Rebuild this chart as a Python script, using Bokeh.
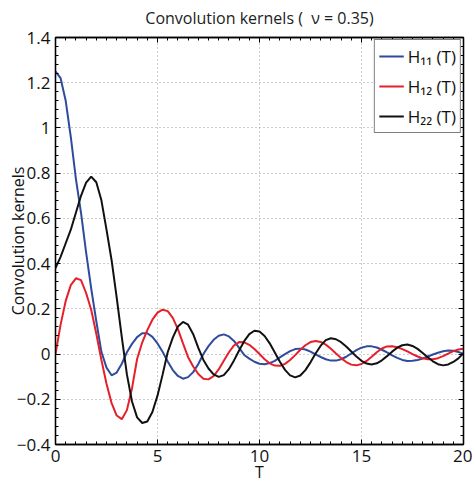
from bokeh.plotting import figure
from bokeh.models import (LinearAxis, FixedTicker, CustomJSTickFormatter, Legend,
                          LegendItem, Range1d)
from bokeh.embed import file_html
from bokeh.resources import INLINE

# ---- data ----
t = [i / 4 for i in range(81)]  # T sample grid, 0 .. 20

h11 = [1.25, 1.22, 1.12, 0.96, 0.775, 0.625, 0.45, 0.29, 0.145, 0.01, -0.06, -0.094,
       -0.082, -0.043, 0.008, 0.045, 0.075, 0.092, 0.092, 0.076, 0.047, 0.01, -0.033,
       -0.071, -0.097, -0.109, -0.102, -0.08, -0.044, 0.0, 0.035, 0.063, 0.081, 0.087,
       0.078, 0.058, 0.027, -0.004, -0.02, -0.034, -0.043, -0.045, -0.040, -0.030,
       -0.015, 0.000, 0.013, 0.022, 0.024, 0.020, 0.011, -0.001, -0.013, -0.023,
       -0.029, -0.029, -0.023, -0.012, 0.0025, 0.017, 0.028, 0.034, 0.034, 0.029,
       0.019, 0.0075, -0.0055, -0.017, -0.026, -0.031, -0.030, -0.0265, -0.0197,
       -0.011, -0.002, 0.006, 0.0125, 0.016, 0.015, 0.009, 0.001]

h12 = [0.0, 0.13, 0.235, 0.305, 0.335, 0.327, 0.27, 0.196, 0.09, -0.026, -0.131,
       -0.217, -0.272, -0.288, -0.248, -0.152, -0.022, 0.051, 0.106, 0.152, 0.183,
       0.196, 0.19, 0.16, 0.11, 0.047, -0.014, -0.055, -0.088, -0.109, -0.112, -0.098,
       -0.068, -0.030, 0.008, 0.038, 0.053, 0.052, 0.041, 0.022, 0.000, -0.023,
       -0.041, -0.051, -0.052, -0.0435, -0.0266, -0.0046, 0.0188, 0.039, 0.053, 0.058,
       0.0537, 0.0417, 0.0238, 0.0027, -0.018, -0.0354, -0.0467, -0.05, -0.044,
       -0.0303, -0.0115, 0.0081, 0.0244, 0.0337, 0.0345, 0.0302, 0.022, 0.0115, 0.0,
       -0.0107, -0.0189, -0.0234, -0.0234, -0.0182, -0.009, 0.0022, 0.0128, 0.0203,
       0.023]

h22 = [0.38, 0.43, 0.49, 0.55, 0.625, 0.70, 0.758, 0.785, 0.76, 0.68, 0.55, 0.415,
       0.25, 0.075, -0.09, -0.21, -0.28, -0.305, -0.298, -0.256, -0.184, -0.091, 0.008,
       0.073, 0.122, 0.142, 0.13, 0.088, 0.027, -0.026, -0.064, -0.090, -0.101, -0.093,
       -0.067, -0.028, 0.016, 0.057, 0.088, 0.103, 0.0997, 0.080, 0.0473, 0.0072,
       -0.034, -0.070, -0.094, -0.103, -0.095, -0.071, -0.0366, 0.0021, 0.037, 0.0614,
       0.07, 0.0655, 0.0527, 0.0335, 0.011, -0.0112, -0.030, -0.042, -0.046, -0.0408,
       -0.0276, -0.0092, 0.0107, 0.028, 0.039, 0.042, 0.036, 0.023, 0.005, -0.0145,
       -0.032, -0.0448, -0.05, -0.046, -0.035, -0.019, 0.004]

series_labels = ["H\u2081\u2081 (T)", "H\u2081\u2082 (T)", "H\u2082\u2082 (T)"]
series_colors = ["#2f4b9c", "#e5202b", "#111111"]

x_ticks = [0, 5, 10, 15, 20]
x_minor = [i / 2 for i in range(41)]
y_ticks = [-0.4, -0.2, 0, 0.2, 0.4, 0.6, 0.8, 1.0, 1.2, 1.4]
y_minor = [round(-0.4 + 0.04 * i, 2) for i in range(46)]

title_text = "Convolution kernels (\u00a0 \u03bd = 0.35)"
x_label = "T"
y_label = "Convolution kernels"

FONT = "Open Sans"

p = figure(width=472, height=486, output_backend="svg", toolbar_location=None,
           x_range=Range1d(0, 20), y_range=Range1d(-0.4, 1.4),
           min_border_left=55, min_border_right=9, min_border_top=36,
           min_border_bottom=42)
p.background_fill_color = "white"
p.border_fill_color = "white"
p.outline_line_color = "black"
p.outline_line_width = 1.3

p.title.text = title_text
p.title.align = "center"
p.title.vertical_align = "top"
p.title.text_font = FONT
p.title.text_font_size = "16px"
p.title.text_font_style = "normal"
p.title.text_color = "#222222"
p.title.standoff = 13

fmt = CustomJSTickFormatter(code="""
var v = Math.round(tick * 10) / 10;
return (v < 0 ? '\\u2212' : '') + Math.abs(v).toString();
""")
blank = CustomJSTickFormatter(code="return '';")

xt = FixedTicker(ticks=x_ticks, minor_ticks=x_minor)
yt = FixedTicker(ticks=y_ticks, minor_ticks=y_minor)


def style_axis(ax, labels=True):
    ax.axis_line_color = "black"
    ax.axis_line_width = 1.3
    ax.major_tick_in = 5
    ax.major_tick_out = 0
    ax.minor_tick_in = 3
    ax.minor_tick_out = 0
    ax.major_tick_line_color = "black"
    ax.minor_tick_line_color = "black"
    ax.major_label_text_font = FONT
    ax.major_label_text_color = "#111111"
    if labels:
        ax.major_label_text_font_size = "17px"
        ax.major_label_standoff = 5
        ax.formatter = fmt
    else:
        ax.major_label_text_font_size = "1px"
        ax.major_label_standoff = 0
        ax.formatter = blank


p.xaxis.ticker = xt
p.yaxis.ticker = yt
style_axis(p.xaxis[0])
style_axis(p.yaxis[0])
p.xaxis.axis_label = x_label
p.yaxis.axis_label = y_label
for ax in (p.xaxis[0], p.yaxis[0]):
    ax.axis_label_text_font = FONT
    ax.axis_label_text_font_size = "16px"
    ax.axis_label_text_font_style = "normal"
    ax.axis_label_text_color = "#111111"
p.xaxis[0].axis_label_standoff = -4
p.yaxis[0].axis_label_standoff = -15

top = LinearAxis(ticker=xt)
style_axis(top, labels=False)
p.add_layout(top, "above")
right = LinearAxis(ticker=yt)
style_axis(right, labels=False)
p.add_layout(right, "right")

p.xgrid.ticker = xt
p.ygrid.ticker = yt
for g in (p.xgrid[0], p.ygrid[0]):
    g.grid_line_color = "#9a9a9a"
    g.grid_line_dash = "1 3"
    g.grid_line_width = 1

renderers = []
for ys, c in zip([h11, h12, h22], series_colors):
    r = p.line(t, ys, line_color=c, line_width=2)
    renderers.append(r)

legend = Legend(items=[LegendItem(label=lab, renderers=[r])
                       for lab, r in zip(series_labels, renderers)],
                location="top_right")
legend.border_line_color = "black"
legend.border_line_width = 1
legend.background_fill_color = "white"
legend.background_fill_alpha = 1
legend.label_text_font = FONT
legend.label_text_font_size = "17px"
legend.label_text_color = "#111111"
legend.glyph_width = 25
legend.glyph_height = 22
legend.label_height = 24
legend.spacing = 6
legend.padding = 4
legend.margin = 2
legend.label_standoff = 4
p.add_layout(legend)

open("out.html", "w").write(file_html(p, INLINE))
